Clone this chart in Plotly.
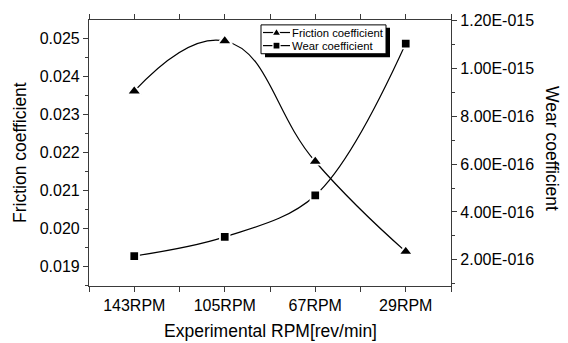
import plotly.graph_objects as go

# Experimental data
rpm_labels = ["143RPM", "105RPM", "67RPM", "29RPM"]
friction = [0.02361, 0.02493, 0.02176, 0.01939]
wear = [2.16e-16, 2.96e-16, 4.69e-16, 1.103e-15]

friction_ticks = [0.019, 0.020, 0.021, 0.022, 0.023, 0.024, 0.025]
wear_ticks = [2e-16, 4e-16, 6e-16, 8e-16, 1.0e-15, 1.2e-15]
wear_tick_text = ["2.00E-016", "4.00E-016", "6.00E-016", "8.00E-016",
                  "1.00E-015", "1.20E-015"]

series_names = ["Friction coefficient", "Wear coefficient"]

x_pos = list(range(len(rpm_labels)))
FONT = "Liberation Sans, Arial, sans-serif"
INK = "#000000"
AXIS = "#3a3a3a"

fig = go.Figure()
fig.add_trace(go.Scatter(
    x=x_pos, y=friction, name=series_names[0], yaxis="y",
    mode="lines+markers", showlegend=False,
    line=dict(color="black", width=1.2, shape="spline", smoothing=1.3),
    marker=dict(symbol="triangle-up", size=12.5, color="black",
                line=dict(color="white", width=1.8)),
))
fig.add_trace(go.Scatter(
    x=x_pos, y=wear, name=series_names[1], yaxis="y2",
    mode="lines+markers", showlegend=False,
    line=dict(color="black", width=1.2, shape="spline", smoothing=1),
    marker=dict(symbol="square", size=9.5, color="black",
                line=dict(color="white", width=1.8)),
))

# plot area in pixels
L, R, T, B = 89, 451, 14, 286
W, H = 568, 343


def px_x(px):
    return (px - L) / (R - L)


def px_y(py):
    return (B - py) / (B - T)


def paper_rect(x0, y0, x1, y1, **kw):
    return dict(type="rect", xref="paper", yref="paper",
                x0=px_x(x0), x1=px_x(x1), y0=px_y(y1), y1=px_y(y0), **kw)


# boxed legend with a drop shadow
LEG_L, LEG_T, LEG_R, LEG_B = 261, 19, 386, 48.5
row_y = [26.8, 40.2]
key_x0, key_x1, key_cx = 263, 290, 276.5

shapes = [
    paper_rect(LEG_L + 4, LEG_T + 3, LEG_R + 4, LEG_B + 3.5,
               fillcolor="black", line=dict(width=0), layer="above"),
    paper_rect(LEG_L, LEG_T, LEG_R, LEG_B,
               fillcolor="white", line=dict(color="black", width=1), layer="above"),
]
for ry in row_y:
    shapes.append(dict(type="line", xref="paper", yref="paper",
                       x0=px_x(key_x0), x1=px_x(key_x1), y0=px_y(ry), y1=px_y(ry),
                       line=dict(color="black", width=1.2), layer="above"))
# triangle key
tri = "M {} {} L {} {} L {} {} Z".format(
    px_x(key_cx - 4.5), px_y(row_y[0] + 3),
    px_x(key_cx + 4.5), px_y(row_y[0] + 3),
    px_x(key_cx), px_y(row_y[0] - 4.5))
shapes.append(dict(type="path", xref="paper", yref="paper", path=tri,
                   fillcolor="black", line=dict(color="white", width=1.2),
                   layer="above"))
# square key
shapes.append(paper_rect(key_cx - 3.5, row_y[1] - 3.5, key_cx + 3.5, row_y[1] + 3.5,
                         fillcolor="black", line=dict(color="white", width=1.2),
                         layer="above"))

annotations = [
    dict(text="Experimental RPM[rev/min]", xref="paper", yref="paper",
         x=px_x(270), y=px_y(332), xanchor="center", yanchor="middle",
         showarrow=False, font=dict(size=17.5)),
    dict(text="Friction coefficient", xref="paper", yref="paper",
         x=px_x(20), y=px_y(150), xanchor="center", yanchor="middle",
         textangle=-90, showarrow=False, font=dict(size=17.5)),
    dict(text="Wear coefficient", xref="paper", yref="paper",
         x=px_x(552), y=px_y(145), xanchor="center", yanchor="middle",
         textangle=90, showarrow=False, font=dict(size=17.5)),
]
for name, ry in zip(series_names, row_y):
    annotations.append(dict(text=name, xref="paper", yref="paper",
                            x=px_x(291), y=px_y(ry), xanchor="left", yanchor="middle",
                            showarrow=False, font=dict(size=11.3),
                            borderpad=0))

fig.update_layout(
    width=W, height=H,
    margin=dict(l=L, r=W - R, t=T, b=H - B, pad=0),
    paper_bgcolor="white", plot_bgcolor="white",
    font=dict(family=FONT, size=16, color=INK),
    showlegend=False,
    xaxis=dict(
        range=[-0.5, 3.5], tickmode="array", tickvals=x_pos, ticktext=rpm_labels,
        showgrid=False, zeroline=False, showline=True, linecolor=AXIS, linewidth=1.2,
        ticks="outside", ticklen=5, tickwidth=1.2, tickcolor=AXIS, mirror="ticks",
        minor=dict(tickvals=[-0.5, 0.5, 1.5, 2.5, 3.5], ticks="outside",
                   ticklen=5, tickwidth=1.2, tickcolor=AXIS),
        tickfont=dict(size=16),
    ),
    yaxis=dict(
        range=[0.018485, 0.025482], tickmode="array", tickvals=friction_ticks,
        tickformat=".3f",
        showgrid=False, zeroline=False, showline=True, linecolor=AXIS, linewidth=1.2,
        ticks="outside", ticklen=5, tickwidth=1.2, tickcolor=AXIS,
        minor=dict(dtick=0.0005, tick0=0.0185, ticks="outside", ticklen=3,
                   tickwidth=1.2, tickcolor=AXIS),
        tickfont=dict(size=16),
    ),
    yaxis2=dict(
        overlaying="y", side="right",
        range=[0.91e-16, 1.2015e-15], tickmode="array", tickvals=wear_ticks,
        ticktext=wear_tick_text,
        showgrid=False, zeroline=False, showline=True, linecolor=AXIS, linewidth=1.2,
        ticks="outside", ticklen=5, tickwidth=1.2, tickcolor=AXIS,
        minor=dict(tickvals=[1e-16, 3e-16, 5e-16, 7e-16, 9e-16, 1.1e-15],
                   ticks="outside", ticklen=3, tickwidth=1.2, tickcolor=AXIS),
        tickfont=dict(size=16),
    ),
    shapes=shapes,
    annotations=annotations,
)

fig.write_html("out.html")
